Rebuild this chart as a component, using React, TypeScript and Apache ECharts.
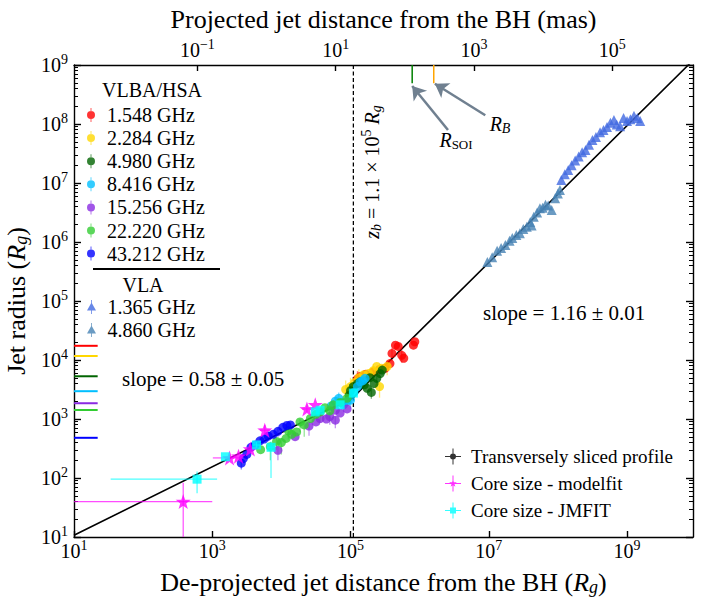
import { useEffect, useRef } from 'react';
import * as echarts from 'echarts';

const FONT = '"Liberation Serif", "Times New Roman", serif';

// ---- axis ranges (R_g) ----
const X_MIN = 10;
const X_MAX = 9e9;
const Y_MIN = 10;
const Y_MAX = 1e9;
const RG_PER_MAS = 6100; // de-projected R_g per projected mas

// ---- tick labels (exponents of 10) ----
const bottomTickExps = [1, 3, 5, 7, 9];
const topTickExps = [-1, 1, 3, 5];
const leftTickExps = [1, 2, 3, 4, 5, 6, 7, 8, 9];
const minorMultipliers = [2, 3, 4, 5, 6, 7, 8, 9];

// ---- legend names & colours ----
const vlbaNames = ['1.548 GHz', '2.284 GHz', '4.980 GHz', '8.416 GHz', '15.256 GHz', '22.220 GHz', '43.212 GHz'];
const vlbaColors = ['#FF0000', '#FFD700', '#006400', '#00BFFF', '#8A2BE2', '#32CD32', '#0000FF'];
const vlaNames = ['1.365 GHz', '4.860 GHz'];
const vlaColors = ['#4169E1', '#4682B4'];
const otherNames = ['Transversely sliced profile', 'Core size - modelfit', 'Core size - JMFIT'];
const otherColors = ['#000000', '#FF00FF', '#00FFFF'];

// ---- VLBA / HSA data: [distance Rg, radius Rg] ----
const pts1548 = [[126000, 4790], [138000, 5250], [166000, 5750], [214000, 6310], [263000, 6920], [316000, 7240], [372000, 8710], [398000, 12900], [447000, 17800], [490000, 17000], [550000, 12000], [589000, 10700], [813000, 17800], [851000, 20400]];
const pts2284 = [[85100, 3160], [100000, 3550], [115000, 4170], [132000, 5010], [155000, 5620], [182000, 5890], [214000, 6610], [240000, 7760], [282000, 7240], [339000, 7760], [263000, 3550]];
const pts4980 = [[95500, 2510], [100000, 3020], [110000, 3550], [126000, 3980], [138000, 4270], [158000, 3800], [174000, 3310], [191000, 5010], [200000, 2820], [219000, 3980], [240000, 4900], [269000, 5890], [288000, 6760]];
const pts8416 = [[52500, 1660], [60300, 2000], [67600, 2240], [75900, 1910], [79400, 1740], [89100, 2000], [100000, 2090], [112000, 2820], [126000, 3550], [138000, 4270], [151000, 4470], [162000, 4900]];
const pts15256 = [[8910, 295], [15800, 501], [25100, 759], [31600, 891], [36300, 1020], [44700, 1000], [50100, 1100], [60300, 955], [60300, 1410], [70800, 1260], [89100, 1480]];
const pts22220 = [[5010, 302], [6920, 339], [8510, 417], [10000, 398], [11700, 468], [12600, 631], [14100, 550], [16600, 603], [18600, 891], [21400, 794], [26300, 1020], [31600, 1200], [36300, 1320], [42700, 1550], [50100, 1380], [56200, 1740], [70800, 1910], [89100, 2240]];
const pts43212 = [[2630, 178], [2820, 214], [3160, 251], [3630, 331], [4170, 363], [4900, 427], [5620, 457], [6460, 513], [7590, 550], [8910, 617], [10500, 724], [12000, 776], [13500, 794]];

// vertical error bars: [distance, radius low, radius high]
const err1548 = [[126000, 3500, 6500], [263000, 5500, 8500], [398000, 9500, 16000], [550000, 9000, 15000]];
const err2284 = [[85100, 2000, 4500], [100000, 2200, 5000], [132000, 3500, 7000], [214000, 4800, 8500], [263000, 2300, 4500], [339000, 5500, 10000]];
const err4980 = [[138000, 3200, 5500], [200000, 2200, 3500], [240000, 3800, 6000]];
const err8416 = [[67600, 1600, 2800], [100000, 1500, 2600], [151000, 3300, 5600]];
const err15256 = [[8910, 200, 340], [25100, 520, 850], [50100, 800, 1250], [60300, 700, 1100]];
const err22220 = [[6920, 200, 400], [8510, 300, 470], [10000, 250, 480], [12600, 450, 760], [18600, 600, 1000], [21400, 500, 950], [36300, 900, 1500], [50100, 900, 1600]];
const err43212 = [[2630, 140, 220], [6460, 420, 600], [8910, 500, 720]];

// ---- VLA data ----
const pts1365 = [[1.12e8, 1.12e7], [1.26e8, 1.41e7], [1.41e8, 1.66e7], [1.58e8, 2.0e7], [1.78e8, 2.4e7], [2.0e8, 2.82e7], [2.24e8, 3.31e7], [2.51e8, 3.63e7], [2.82e8, 4.47e7], [3.16e8, 5.37e7], [3.55e8, 6.03e7], [4.07e8, 7.24e7], [4.57e8, 7.94e7], [5.13e8, 8.91e7], [5.75e8, 1.05e8], [6.46e8, 1.17e8], [7.08e8, 9.77e7], [7.94e8, 9.12e7], [8.91e8, 1.26e8], [1.0e9, 1.12e8], [1.12e9, 1.2e8], [1.26e9, 1.38e8], [1.41e9, 1.26e8], [1.55e9, 1.12e8]];
const pts4860 = [[9.55e6, 4.57e5], [1.12e7, 5.5e5], [1.32e7, 7.08e5], [1.51e7, 7.94e5], [1.74e7, 8.91e5], [2.0e7, 1.05e6], [2.19e7, 1.17e6], [2.51e7, 1.32e6], [2.82e7, 1.41e6], [3.16e7, 1.66e6], [3.55e7, 1.82e6], [3.98e7, 2.19e6], [4.17e7, 1.91e6], [4.47e7, 2.69e6], [5.01e7, 3.16e6], [5.5e7, 3.72e6], [6.03e7, 3.8e6], [6.61e7, 4.27e6], [7.24e7, 4.17e6], [8.13e7, 3.47e6], [9.12e7, 5.5e6], [1.0e8, 6.61e6], [1.07e8, 7.59e6]];

// ---- core sizes ----
const modelfitPts = [[380, 39.8], [1780, 219], [2400, 234], [3550, 309], [5750, 646], [23400, 1480], [30900, 1740]];
const jmfitPts = [[603, 95.5], [1550, 229], [4370, 363], [7080, 331], [30900, 1320], [36300, 1410], [70800, 1740], [110000, 2750]];
// cross error bars: [x, y, xLow, xHigh, yLow, yHigh]
const modelfitErr = [[380, 39.8, 10, 1000, 10, 83], [1780, 219, 1020, 2820, 195, 245], [5750, 646, 4900, 6900, 540, 790], [23400, 1480, 20000, 27000, 1300, 1700]];
const jmfitErr = [[603, 95.5, 33.9, 1175, 55, 129], [4370, 363, 3900, 4900, 320, 410], [7080, 331, 6300, 7900, 100, 417]];

// ---- beam sizes (short lines at left edge) ----
const beamSizes = [17400, 11700, 5300, 2960, 1850, 1420, 480];
const beamXExtent = [10, 22];

// ---- fitted broken power law ----
const fitX = [10, 39800, 79400, 109600, 158500, 316200, 9e9];
const fitY = [10.7, 1318, 1862, 2291, 3631, 8128, 1.2e9];

// ---- characteristic scales ----
const BREAK_Z = 1.1e5;
const R_SOI = 7.8e5;
const R_B = 1.6e6;
const scaleMarkY = [4.9e8, 1e9];
const soiArrow = [[2.57e6, 7.9e7], [7.8e5, 4.4e8]];
const rbArrow = [[8.9e6, 1.41e8], [1.66e6, 4.8e8]];

// ---------------------------------------------------------------
const lg = Math.log10;
const xExpMin = lg(X_MIN);
const xExpMax = lg(X_MAX);
const yExpMin = lg(Y_MIN);
const yExpMax = lg(Y_MAX);
const topExpMin = lg(X_MIN / RG_PER_MAS);
const topExpMax = lg(X_MAX / RG_PER_MAS);
const minorExps: number[] = [];
for (let n = yExpMin; n < yExpMax; n++) for (const k of minorMultipliers) minorExps.push(n + lg(k));

const supLabel = (v: number) => {
  const e = Math.round(v);
  return `{b|10}{s|${e < 0 ? '\u2212' + -e : e}}`;
};
const tickRich = {
  b: { fontFamily: FONT, fontSize: 20, color: '#000' },
  s: { fontFamily: FONT, fontSize: 14, color: '#000', padding: [0, 0, 12, 0] },
};
const nameRich = {
  n: { fontFamily: FONT, fontSize: 26, color: '#000' },
  i: { fontFamily: FONT, fontSize: 26, color: '#000', fontStyle: 'italic' },
  g: { fontFamily: FONT, fontSize: 18, color: '#000', fontStyle: 'italic', padding: [10, 0, 0, 0] },
};
const frameLine = { show: true, onZero: false, lineStyle: { color: '#000', width: 1.4 } };
const tickLine = { color: '#000', width: 1.4 };

const STAR = 'path://M5,2L5.71,4.03L7.85,4.07L6.14,5.37L6.76,7.43L5,6.2L3.24,7.43L3.86,5.37L2.15,4.07L4.29,4.03Z';
const CIRCLE_BAR = 'path://M4.6,0h0.8v14h-0.8z M9,7a4,4 0 1,1 -8,0a4,4 0 1,1 8,0z';
const TRI_BAR = 'path://M4.6,0h0.8v14h-0.8z M5,2.5L9.5,10.5H0.5Z';
const CROSS_CIRCLE = 'path://M0,7.5h16v1h-16z M7.5,0h1v16h-1z M11,8a3,3 0 1,1 -6,0a3,3 0 1,1 6,0z';
const CROSS_STAR = 'path://M0,7.5h16v1h-16z M7.5,0h1v16h-1z M8,4L8.94,6.7L11.8,6.76L9.52,8.5L10.35,11.24L8,9.6L5.65,11.24L6.48,8.5L4.2,6.76L7.06,6.7Z';
const CROSS_SQUARE = 'path://M0,7.5h16v1h-16z M7.5,0h1v16h-1z M5,5h6v6h-6z';

const vErrSeries = (data: number[][], color: string) => ({
  type: 'custom',
  xAxisIndex: 0,
  yAxisIndex: 0,
  silent: true,
  clip: true,
  z: 2,
  data,
  renderItem: (_p: any, api: any) => {
    const a = api.coord([api.value(0), api.value(1)]);
    const b = api.coord([api.value(0), api.value(2)]);
    return {
      type: 'line',
      shape: { x1: a[0], y1: a[1], x2: b[0], y2: b[1] },
      style: { stroke: color, lineWidth: 1.3, opacity: 0.5 },
    };
  },
});

const crossErrSeries = (data: number[][], color: string) => ({
  type: 'custom',
  xAxisIndex: 0,
  yAxisIndex: 0,
  silent: true,
  clip: true,
  z: 4,
  data,
  renderItem: (_p: any, api: any) => {
    const x = api.value(0);
    const y = api.value(1);
    const l = api.coord([api.value(2), y]);
    const r = api.coord([api.value(3), y]);
    const b = api.coord([x, api.value(4)]);
    const t = api.coord([x, api.value(5)]);
    const style = { stroke: color, lineWidth: 1.2, opacity: 0.7 };
    return {
      type: 'group',
      children: [
        { type: 'line', shape: { x1: l[0], y1: l[1], x2: r[0], y2: r[1] }, style },
        { type: 'line', shape: { x1: b[0], y1: b[1], x2: t[0], y2: t[1] }, style },
      ],
    };
  },
});

const vlbaPoints = [pts1548, pts2284, pts4980, pts8416, pts15256, pts22220, pts43212];
const vlbaErrors = [err1548, err2284, err4980, err8416, err15256, err22220, err43212];
const vlaPoints = [pts1365, pts4860];

function buildOption() {
  const series: any[] = [];

  // fit line
  series.push({
    type: 'line', xAxisIndex: 0, yAxisIndex: 0, silent: true, symbol: 'none', clip: true, z: 3,
    data: fitX.map((x, i) => [x, fitY[i]]),
    lineStyle: { color: '#000', width: 1.6 },
  });
  // break location
  series.push({
    type: 'line', xAxisIndex: 0, yAxisIndex: 0, silent: true, symbol: 'none', z: 1,
    data: [[BREAK_Z, Y_MIN], [BREAK_Z, Y_MAX]],
    lineStyle: { color: '#000', width: 1.3, type: [4, 2.5] },
  });
  // beam sizes
  beamSizes.forEach((b, i) => {
    series.push({
      type: 'line', xAxisIndex: 0, yAxisIndex: 0, silent: true, symbol: 'none', z: 3,
      data: beamXExtent.map((x) => [x, b]),
      lineStyle: { color: vlbaColors[i], width: 2 },
    });
  });
  // R_SOI & R_B marks with arrows
  series.push({
    type: 'line', xAxisIndex: 0, yAxisIndex: 0, silent: true, symbol: 'none', z: 3,
    data: scaleMarkY.map((y) => [R_SOI, y]),
    lineStyle: { color: '#008000', width: 1.5 },
    markLine: {
      silent: true,
      symbol: ['none', 'arrow'],
      symbolSize: 13,
      label: { show: false },
      lineStyle: { color: '#708090', width: 2.5, type: 'solid' },
      data: [
        [{ coord: soiArrow[0] }, { coord: soiArrow[1] }],
        [{ coord: rbArrow[0] }, { coord: rbArrow[1] }],
      ],
    },
  });
  series.push({
    type: 'line', xAxisIndex: 0, yAxisIndex: 0, silent: true, symbol: 'none', z: 3,
    data: scaleMarkY.map((y) => [R_B, y]),
    lineStyle: { color: '#FFA500', width: 1.5 },
  });

  // VLBA error bars + points
  vlbaErrors.forEach((e, i) => series.push(vErrSeries(e, vlbaColors[i])));
  vlbaPoints.forEach((pts, i) => {
    series.push({
      type: 'scatter', name: vlbaNames[i], xAxisIndex: 0, yAxisIndex: 0, z: 3,
      data: pts, symbol: 'circle', symbolSize: 9,
      itemStyle: { color: vlbaColors[i] },
    });
  });
  // VLA
  vlaPoints.forEach((pts, i) => {
    series.push({
      type: 'scatter', name: vlaNames[i], xAxisIndex: 0, yAxisIndex: 0, z: 3,
      data: pts, symbol: 'triangle', symbolSize: 10,
      itemStyle: { color: vlaColors[i] },
    });
  });
  // sliced profile (legend only)
  series.push({
    type: 'scatter', name: otherNames[0], xAxisIndex: 0, yAxisIndex: 0, data: [],
    symbol: 'circle', itemStyle: { color: otherColors[0] },
  });
  // core sizes
  series.push(crossErrSeries(modelfitErr, otherColors[1]));
  series.push(crossErrSeries(jmfitErr, otherColors[2]));
  series.push({
    type: 'scatter', name: otherNames[1], xAxisIndex: 0, yAxisIndex: 0, z: 5,
    data: modelfitPts, symbol: STAR, symbolSize: 15, itemStyle: { color: otherColors[1] },
  });
  series.push({
    type: 'scatter', name: otherNames[2], xAxisIndex: 0, yAxisIndex: 0, z: 5,
    data: jmfitPts, symbol: 'rect', symbolSize: 9, itemStyle: { color: otherColors[2] },
  });

  const legendText = (size: number, lh: number) => ({ fontFamily: FONT, fontSize: size, color: '#000', lineHeight: lh });

  const text = (x: number, y: number, t: string, size: number, align = 'center') => ({
    type: 'text', x, y, z: 10,
    style: {
      text: t, fontFamily: FONT, fontSize: size, fill: '#000',
      align, verticalAlign: 'middle', textAlign: align, textVerticalAlign: 'middle',
    },
  });

  const annRich = {
    n: { fontFamily: FONT, fontSize: 20, color: '#000' },
    i: { fontFamily: FONT, fontSize: 20, color: '#000', fontStyle: 'italic' },
    sb: { fontFamily: FONT, fontSize: 14, color: '#000', fontStyle: 'italic', padding: [9, 0, 0, 0] },
    sr: { fontFamily: FONT, fontSize: 13, color: '#000', padding: [9, 0, 0, 0] },
    sp: { fontFamily: FONT, fontSize: 14, color: '#000', padding: [0, 0, 12, 0] },
  };
  const richText = (x: number, y: number, t: string, rotation = 0) => ({
    type: 'text', x, y, rotation, z: 10,
    style: {
      text: t, rich: annRich, fontFamily: FONT, fontSize: 20, fill: '#000',
      align: 'center', verticalAlign: 'middle', textAlign: 'center', textVerticalAlign: 'middle',
    },
  });

  return {
    animation: false,
    backgroundColor: '#fff',
    grid: { left: 74, right: 13, top: 65, bottom: 66, containLabel: false, outerBoundsMode: 'none' },
    xAxis: [
      { type: 'log', logBase: 10, min: X_MIN, max: X_MAX, show: false },
      {
        type: 'value', position: 'top', min: topExpMin, max: topExpMax,
        axisLine: frameLine,
        axisTick: { show: true, inside: true, length: 6, customValues: topTickExps, lineStyle: tickLine },
        axisLabel: { customValues: topTickExps, formatter: supLabel, rich: tickRich, margin: 2 },
        splitLine: { show: false },
        name: 'Projected jet distance from the BH (mas)', nameLocation: 'middle', nameGap: 33,
        nameTextStyle: { fontFamily: FONT, fontSize: 26, color: '#000' },
      },
      {
        type: 'value', position: 'bottom', min: xExpMin, max: xExpMax,
        axisLine: frameLine,
        axisTick: { show: true, inside: true, length: 6, customValues: bottomTickExps, lineStyle: tickLine },
        axisLabel: { customValues: bottomTickExps, formatter: supLabel, rich: tickRich, margin: 1 },
        splitLine: { show: false },
        name: '{n|De-projected jet distance from the BH (}{i|R}{g|g}{n|)}', nameLocation: 'middle', nameGap: 31,
        nameTextStyle: { rich: nameRich },
      },
    ],
    yAxis: [
      { type: 'log', logBase: 10, min: Y_MIN, max: Y_MAX, show: false },
      {
        type: 'value', position: 'left', min: yExpMin, max: yExpMax,
        axisLine: frameLine,
        axisTick: { show: true, inside: true, length: 7, customValues: leftTickExps, lineStyle: tickLine },
        axisLabel: { customValues: leftTickExps, formatter: supLabel, rich: tickRich, margin: 6 },
        splitLine: { show: false },
        name: '{n|Jet radius (}{i|R}{g|g}{n|)}', nameLocation: 'middle', nameRotate: 90, nameGap: 39,
        nameTextStyle: { rich: nameRich },
      },
      {
        type: 'value', position: 'left', min: yExpMin, max: yExpMax,
        axisLine: { show: false, onZero: false },
        axisTick: { show: true, inside: true, length: 4, customValues: minorExps, lineStyle: { color: '#000', width: 1 } },
        axisLabel: { show: false },
        splitLine: { show: false },
      },
      {
        type: 'value', position: 'right', min: yExpMin, max: yExpMax,
        axisLine: frameLine,
        axisTick: { show: true, inside: true, length: 7, customValues: leftTickExps, lineStyle: tickLine },
        axisLabel: { show: false },
        splitLine: { show: false },
      },
      {
        type: 'value', position: 'right', min: yExpMin, max: yExpMax,
        axisLine: { show: false, onZero: false },
        axisTick: { show: true, inside: true, length: 4, customValues: minorExps, lineStyle: { color: '#000', width: 1 } },
        axisLabel: { show: false },
        splitLine: { show: false },
      },
    ],
    legend: [
      {
        data: vlbaNames.map((n) => ({ name: n, icon: CIRCLE_BAR })),
        orient: 'vertical', left: 87, top: 105, padding: 0,
        itemWidth: 22, itemHeight: 14, itemGap: 3.1, selectedMode: false,
        textStyle: legendText(20, 20),
      },
      {
        data: vlaNames.map((n) => ({ name: n, icon: TRI_BAR })),
        orient: 'vertical', left: 87, top: 297, padding: 0,
        itemWidth: 22, itemHeight: 14, itemGap: 3, selectedMode: false,
        textStyle: legendText(20, 20),
      },
      {
        data: [
          { name: otherNames[0], icon: CROSS_CIRCLE },
          { name: otherNames[1], icon: CROSS_STAR },
          { name: otherNames[2], icon: CROSS_SQUARE },
        ],
        orient: 'vertical', left: 445, top: 447, padding: 0,
        itemWidth: 26, itemHeight: 16, itemGap: 8, selectedMode: false,
        textStyle: legendText(19, 19),
      },
    ],
    graphic: [
      text(152, 90, 'VLBA/HSA', 20),
      { type: 'line', z: 10, shape: { x1: 93, y1: 269, x2: 220, y2: 269 }, style: { stroke: '#000', lineWidth: 2 } },
      text(143, 285, 'VLA', 20),
      text(122, 379, 'slope = 0.58 \u00b1 0.05', 21, 'left'),
      text(483, 313, 'slope = 1.16 \u00b1 0.01', 21, 'left'),
      richText(372, 172, '{i|z}{sb|b}{n| = 1.1 \u00d7 10}{sp|5}{n| }{i|R}{sb|g}', Math.PI / 2),
      richText(456, 140, '{i|R}{sr|SOI}'),
      richText(500, 124, '{i|R}{sb|B}'),
    ],
    series,
  };
}

export default function App() {
  const ref = useRef<HTMLDivElement>(null);
  useEffect(() => {
    if (!ref.current) return;
    const chart = echarts.init(ref.current, null, { renderer: 'svg' });
    chart.setOption(buildOption() as any);
    return () => chart.dispose();
  }, []);
  return (
    <div
      ref={ref}
      style={{ position: 'fixed', left: 0, top: 0, width: 706, height: 603, background: '#fff' }}
    />
  );
}
